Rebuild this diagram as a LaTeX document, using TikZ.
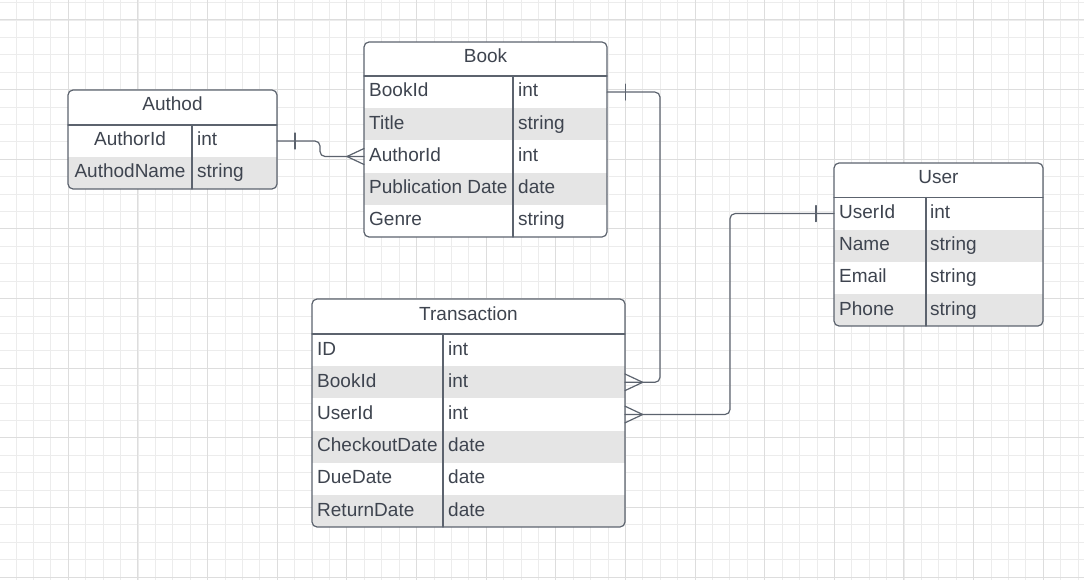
\documentclass[tikz,border=0pt]{standalone}
\usepackage{fontspec}
\setmainfont{Liberation Sans}
\definecolor{gridminor}{RGB}{236,236,236}
\definecolor{gridmajor}{RGB}{221,221,221}
\definecolor{rowgray}{RGB}{229,229,229}
\definecolor{linegray}{RGB}{92,99,110}
\definecolor{txtgray}{RGB}{62,68,79}
\tikzset{
  gridline/.style={gridminor,line width=0.9pt},
  gridmain/.style={gridmajor,line width=1pt},
  tbl/.style={draw=linegray,line width=1.2pt,rounded corners=5pt},
  sepline/.style={linegray,line width=1.2pt},
  rowbox/.style={anchor=north west,inner sep=0pt,outer sep=0pt,minimum height=32.2pt},
  fld/.style={anchor=base west,inner sep=0pt,text=txtgray,font=\fontsize{19}{22}\selectfont},
  ttl/.style={anchor=base,inner sep=0pt,text=txtgray,font=\fontsize{19}{22}\selectfont},
  rel/.style={linegray,line width=1.2pt,rounded corners=5pt},
  onebar/.style={linegray,line width=1.2pt},
}
\begin{document}
\begin{tikzpicture}[x=1pt,y=-1pt,line cap=round,line join=round]
\useasboundingbox (0,0) rectangle (1084,580);
% grid
\begin{scope}
\clip (0,0) rectangle (1084,580);
\foreach \k in {0,...,62}
\draw[gridline] ({-1.3+17.41*\k},0)--({-1.3+17.41*\k},580);
\foreach \k in {0,...,33}
\draw[gridline] (0,{2.6+17.41*\k})--(1084,{2.6+17.41*\k});
\foreach \k in {-1,...,14}
\draw[gridmain] ({68.3+69.64*\k},0)--({68.3+69.64*\k},580);
\foreach \k in {0,...,8}
\draw[gridmain] (0,{20+69.64*\k})--(1084,{20+69.64*\k});
\end{scope}

% Authod
\begin{scope}
\clip[rounded corners=5pt] (68,90) rectangle (277,189);
\fill[white] (68,90) rectangle (277,125);
\foreach \c [count=\i] in {white,rowgray}
\node[rowbox,fill=\c,minimum width=209pt,minimum height=32pt] (auth-r\i) at (68,{125+32*(\i-1)}) {};
\end{scope}
\draw[tbl] (68,90) rectangle (277,189);
\draw[sepline] (68,125)--(277,125) (192,125)--(192,189);
\node[ttl] (auth) at (172.5,111) {Authod};
\foreach \f/\t [count=\i] in {AuthorId/int,AuthodName/string}{
\node[fld,anchor=base] (auth-f\i) at (130,{125+32*(\i-1)+21}) {\f};
\node[fld] (auth-t\i) at (197,{125+32*(\i-1)+21}) {\t};
}

% Book
\begin{scope}
\clip[rounded corners=5pt] (364,42) rectangle (607,237);
\fill[white] (364,42) rectangle (607,76);
\foreach \c [count=\i] in {white,rowgray,white,rowgray,white}
\node[rowbox,fill=\c,minimum width=243pt] (book-r\i) at (364,{76+32.2*(\i-1)}) {};
\end{scope}
\draw[tbl] (364,42) rectangle (607,237);
\draw[sepline] (364,76)--(607,76) (513,76)--(513,237);
\node[ttl] (book) at (485.5,63) {Book};
\foreach \f/\t [count=\i] in {BookId/int,Title/string,AuthorId/int,Publication Date/date,Genre/string}{
\node[fld] (book-f\i) at (369,{76+32.2*(\i-1)+21}) {\f};
\node[fld] (book-t\i) at (518,{76+32.2*(\i-1)+21}) {\t};
}

% Transaction
\begin{scope}
\clip[rounded corners=5pt] (312,299) rectangle (625,527);
\fill[white] (312,299) rectangle (625,334);
\foreach \c [count=\i] in {white,rowgray,white,rowgray,white,rowgray}
\node[rowbox,fill=\c,minimum width=313pt] (trans-r\i) at (312,{334+32.2*(\i-1)}) {};
\end{scope}
\draw[tbl] (312,299) rectangle (625,527);
\draw[sepline] (312,334)--(625,334) (443,334)--(443,527);
\node[ttl] (trans) at (468.5,320) {Transaction};
\foreach \f/\t [count=\i] in {ID/int,BookId/int,UserId/int,CheckoutDate/date,DueDate/date,ReturnDate/date}{
\node[fld] (trans-f\i) at (317,{334+32.2*(\i-1)+21}) {\f};
\node[fld] (trans-t\i) at (448,{334+32.2*(\i-1)+21}) {\t};
}

% User
\begin{scope}
\clip[rounded corners=5pt] (834,163) rectangle (1043,326);
\fill[white] (834,163) rectangle (1043,197.5);
\foreach \c [count=\i] in {white,rowgray,white,rowgray}
\node[rowbox,fill=\c,minimum width=209pt] (user-r\i) at (834,{197.5+32.2*(\i-1)}) {};
\end{scope}
\draw[tbl] (834,163) rectangle (1043,326);
\draw[sepline] (834,197.5)--(1043,197.5) (926,197.5)--(926,326);
\node[ttl] (user) at (938.5,184) {User};
\foreach \f/\t [count=\i] in {UserId/int,Name/string,Email/string,Phone/string}{
\node[fld] (user-f\i) at (839,{197.5+32.2*(\i-1)+21}) {\f};
\node[fld] (user-t\i) at (930,{197.5+32.2*(\i-1)+21}) {\t};
}

% relations
\draw[rel] (auth-r1.east) -- ++(43,0) |- (book-r3.west);
\draw[onebar] ([xshift=18pt,yshift=8pt]auth-r1.east) -- ([xshift=18pt,yshift=-8pt]auth-r1.east);
\draw[onebar] ([yshift=8pt]book-r3.west) -- ([xshift=-17pt]book-r3.west) -- ([yshift=-8pt]book-r3.west);

\draw[rel] (book-r1.east) -- ++(53,0) |- (trans-r2.east);
\draw[onebar] ([xshift=18.5pt,yshift=8pt]book-r1.east) -- ([xshift=18.5pt,yshift=-8pt]book-r1.east);
\draw[onebar] ([yshift=8.3pt]trans-r2.east) -- ([xshift=17.7pt]trans-r2.east) -- ([yshift=-8.3pt]trans-r2.east);

\draw[rel] (user-r1.west) -- ++(-104,0) |- (trans-r3.east);
\draw[onebar] ([xshift=-18pt,yshift=8pt]user-r1.west) -- ([xshift=-18pt,yshift=-8pt]user-r1.west);
\draw[onebar] ([yshift=8.3pt]trans-r3.east) -- ([xshift=17.7pt]trans-r3.east) -- ([yshift=-8.3pt]trans-r3.east);

\end{tikzpicture}
\end{document}
